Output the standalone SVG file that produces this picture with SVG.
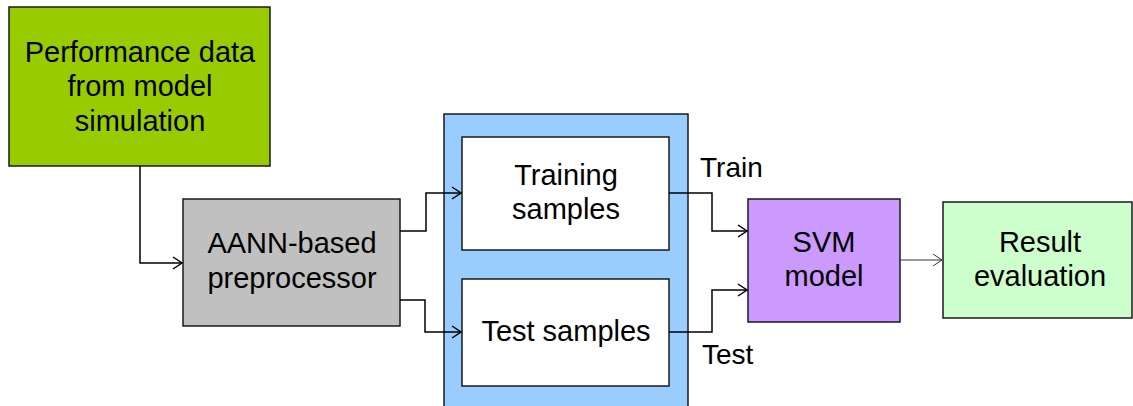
<svg xmlns="http://www.w3.org/2000/svg" width="1133" height="406" viewBox="0 0 1133 406">
<style>
.box{stroke:#1a1a1a;stroke-width:1.5}
.t{font-family:"Liberation Sans",Arial,sans-serif;font-size:29px;fill:#000;text-anchor:middle}
.l{font-family:"Liberation Sans",Arial,sans-serif;font-size:28px;fill:#000}
.c{fill:none;stroke:#000;stroke-width:1.5}
.c2{fill:none;stroke:#333;stroke-width:1}
</style>
<defs>
<marker id="ah" markerUnits="userSpaceOnUse" markerWidth="12" markerHeight="14" refX="10" refY="7" orient="auto">
<path d="M1,1 L10,7 L1,13" fill="none" stroke="#000" stroke-width="1.5"/>
</marker>
<marker id="ah2" markerUnits="userSpaceOnUse" markerWidth="12" markerHeight="14" refX="10" refY="7" orient="auto">
<path d="M1,1 L10,7 L1,13" fill="none" stroke="#333" stroke-width="1"/>
</marker>
</defs>
<rect width="1133" height="406" fill="#fff"/>
<g id="blue-container"><rect class="box" x="444" y="114" width="244" height="300" fill="#99CCFF"/></g>
<g id="perf-data">
<rect class="box" x="9" y="7" width="261" height="159" fill="#99CC00"/>
<text class="t" x="140" y="62">Performance data</text>
<text class="t" x="140" y="96">from model</text>
<text class="t" x="140" y="131">simulation</text>
</g>
<g id="aann">
<rect class="box" x="183" y="199" width="217" height="127" fill="#C0C0C0"/>
<text class="t" x="292" y="253">AANN-based</text>
<text class="t" x="292" y="288">preprocessor</text>
</g>
<g id="training">
<rect class="box" x="462" y="137" width="207" height="113" fill="#fff"/>
<text class="t" x="566" y="185">Training</text>
<text class="t" x="566" y="219">samples</text>
</g>
<g id="test">
<rect class="box" x="462" y="279" width="207" height="107" fill="#fff"/>
<text class="t" x="566" y="341">Test samples</text>
</g>
<g id="svm">
<rect class="box" x="748" y="199" width="152" height="123" fill="#CC99FF"/>
<text class="t" x="824" y="252">SVM</text>
<text class="t" x="824" y="286">model</text>
</g>
<g id="result">
<rect class="box" x="943" y="202" width="189" height="116" fill="#CCFFCC"/>
<text class="t" x="1040" y="252">Result</text>
<text class="t" x="1040" y="286">evaluation</text>
</g>
<g id="connectors">
<path class="c" d="M140,166 V263 H182" marker-end="url(#ah)"/>
<path class="c" d="M400,231 H426 V193 H461" marker-end="url(#ah)"/>
<path class="c" d="M400,300 H425 V332 H461" marker-end="url(#ah)"/>
<path class="c" d="M669,193 H712 V231 H747" marker-end="url(#ah)"/>
<path class="c" d="M669,332 H712 V290 H747" marker-end="url(#ah)"/>
<path class="c2" d="M900,260 H942" marker-end="url(#ah2)"/>
<text class="l" x="700" y="177">Train</text>
<text class="l" x="702" y="364">Test</text>
</g>
</svg>
